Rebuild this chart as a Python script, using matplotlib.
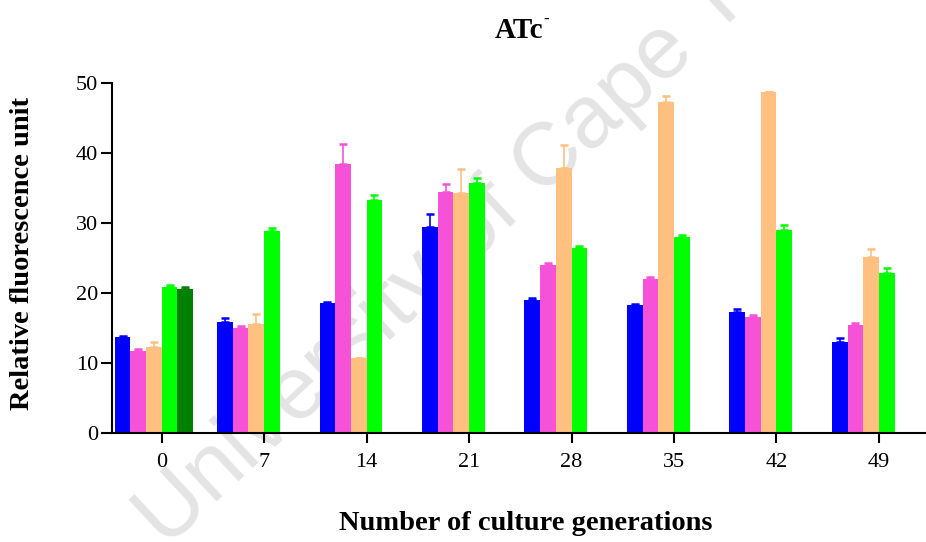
import matplotlib
matplotlib.use("Agg")
import matplotlib.pyplot as plt
import numpy as np

generations = ["0", "7", "14", "21", "28", "35", "42", "49"]

# mean values per series
blue = [13.7, 15.9, 18.6, 29.5, 19.1, 18.3, 17.4, 13.1]
pink = [11.7, 15.1, 38.5, 34.5, 24.0, 22.1, 16.6, 15.5]
orange = [12.4, 15.6, 10.8, 34.4, 37.9, 47.3, 48.7, 25.2]
green = [20.9, 28.9, 33.3, 35.8, 26.5, 28.0, 29.1, 22.9]
dark_green = [20.6, np.nan, np.nan, np.nan, np.nan, np.nan, np.nan, np.nan]

# upper error bars
blue_err = [0.15, 0.6, 0.15, 1.8, 0.2, 0.15, 0.4, 0.5]
pink_err = [0.4, 0.3, 2.8, 1.1, 0.4, 0.3, 0.3, 0.2]
orange_err = [0.6, 1.4, 0.0, 3.3, 3.3, 0.9, 0.1, 1.1]
green_err = [0.25, 0.4, 0.7, 0.7, 0.3, 0.4, 0.6, 0.7]
dark_green_err = [0.3, np.nan, np.nan, np.nan, np.nan, np.nan, np.nan, np.nan]

series = [
    (blue, blue_err, "#0000FF"),
    (pink, pink_err, "#F652D8"),
    (orange, orange_err, "#FFC080"),
    (green, green_err, "#00FF00"),
    (dark_green, dark_green_err, "#008000"),
]

plt.rcParams["font.family"] = ["Liberation Serif", "DejaVu Serif"]

W, H = 926, 542
fig = plt.figure(figsize=(W / 100, H / 100), dpi=100)

# watermark behind everything
fig.text(0.540, 0.620, "University of Cape Town", fontsize=64, color="#E4E4E4",
         family="Liberation Sans", rotation=43, rotation_mode="anchor",
         ha="center", va="center", zorder=-5)

ax = fig.add_axes([112 / W, 1 - 433.3 / H, 1 - 112 / W, 350 / H])
ax.set_zorder(1)
ax.patch.set_alpha(0)

x = np.arange(len(generations))
w = 0.153
offsets = [-2.5, -1.5, -0.5, 0.5, 1.5]
for (vals, err, col), off in zip(series, offsets):
    vals = np.array(vals, dtype=float)
    err = np.array(err, dtype=float)
    ax.bar(x + off * w, vals, width=w, color=col, edgecolor="none", zorder=2)
    ax.errorbar(x + off * w, vals, yerr=[np.zeros_like(err), err], fmt="none",
                ecolor=col, elinewidth=1.2, capsize=3.2, capthick=1.8, zorder=3)

ax.set_xlim(-0.485, 7.46)
ax.set_ylim(0, 50)
ax.set_xticks(x)
ax.set_xticklabels(generations)
ax.set_yticks([0, 10, 20, 30, 40, 50])
ax.spines["top"].set_visible(False)
ax.spines["right"].set_visible(False)
for s in ["left", "bottom"]:
    ax.spines[s].set_linewidth(1.5)
ax.tick_params(axis="y", length=8, width=1.5, labelsize=16, pad=2)
ax.tick_params(axis="x", length=7, width=1.5, labelsize=16, pad=7)

fig.text(23 / W, 1 - 254 / H, "Relative fluorescence unit", rotation=90,
         fontsize=20.5, fontweight="bold", ha="center", va="center", zorder=5)
fig.text(525.5 / W, 1 - 523 / H, "Number of culture generations",
         fontsize=20.5, fontweight="bold", ha="center", va="center", zorder=5)
fig.text(519 / W, 1 - 30 / H, "ATc", fontsize=21, fontweight="bold",
         ha="center", va="center", zorder=5)
fig.text(546 / W, 1 - 20 / H, "-", fontsize=12, fontweight="bold",
         ha="center", va="center", zorder=5)

fig.savefig("out.png", dpi=100)
